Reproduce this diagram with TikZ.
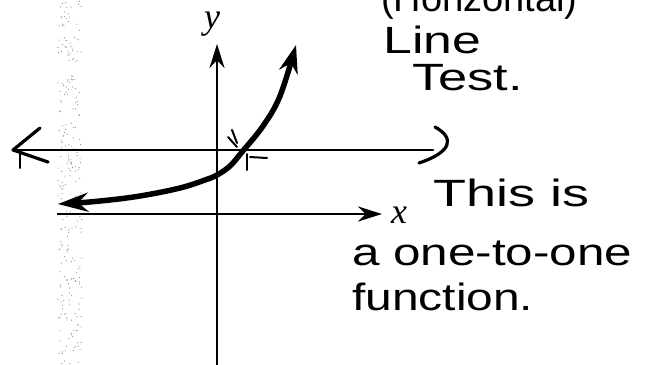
\documentclass[tikz,border=0pt]{standalone}
\usepackage{fontspec}
\setmainfont{Liberation Sans}
\newfontfamily\labelfont{Liberation Serif}
\usetikzlibrary{arrows.meta}
\begin{document}
\begin{tikzpicture}[x=1pt,y=-1pt,
  handtext/.style={font=\fontsize{38}{40}\selectfont, inner sep=0pt, anchor=base west, transform shape},
  axislabel/.style={font=\labelfont\itshape\fontsize{36}{38}\selectfont, inner sep=0pt, anchor=base west},
  axisline/.style={line width=2.8pt, -{Stealth[length=24pt,width=15pt]}},
  hline/.style={line width=2.8pt, line cap=round, line join=round},
  curveline/.style={line width=5.5pt, line cap=round, {Stealth[length=30pt,width=19pt]}-{Stealth[length=28pt,width=19pt]}},
  tick/.style={line width=2pt, line cap=round}]
\useasboundingbox (0,0) rectangle (647,364);
\clip (0,0) rectangle (647,364);
% scan stipple band
\pgfmathsetseed{7}
\foreach \i in {1,...,260}{
  \fill[black!45] ({58+24*rnd},{364*rnd}) circle (0.6pt);
}
% axes
\coordinate (ybot) at (217,370);
\coordinate (ytop) at (217,44);
\coordinate (xleft) at (57,214);
\coordinate (xright) at (382,214);
\draw[axisline] (ybot) -- (ytop);
\draw[axisline] (xleft) -- (xright);
\node[axislabel] (ylab) at (204,28) {y};
\node[axislabel] (xlab) at (391,223) {x};
% horizontal test line
\coordinate (hl) at (13,150);
\coordinate (hr) at (433,150);
\draw[hline] (hl) -- (hr);
\draw[hline, line width=3.2pt] (40,128) -- (hl) -- (48,162);
\draw[tick] (20,151) -- (20,168);
\draw[hline, line width=3.2pt] (435,127) .. controls (455,138) and (452,152) .. (419,163);
% exponential curve
\draw[curveline] plot[smooth, tension=0.6] coordinates {(58,204) (100,201) (140,196) (180,188) (205,180) (217,175) (230,166) (242,152) (263,126) (280,96) (296,45)};
% crossing marks
\draw[tick] (232,130) -- (237,143);
\draw[tick] (228,137) -- (237,147);
\draw[tick] (247,154) -- (247,170);
\draw[tick] (250,157) -- (267,158);
% handwritten text
\node[handtext] (t0) at (381,12) {(Horizontal)};
\node[handtext, xscale=1.36] (t1) at (383,53) {Line};
\node[handtext, xscale=1.38] (t2) at (412,90) {Test.};
\node[handtext, xscale=1.42] (t3) at (433,206) {This is};
\node[handtext, xscale=1.3] (t4) at (352,265) {a one-to-one};
\node[handtext, xscale=1.26] (t5) at (352,310) {function.};
\end{tikzpicture}
\end{document}
